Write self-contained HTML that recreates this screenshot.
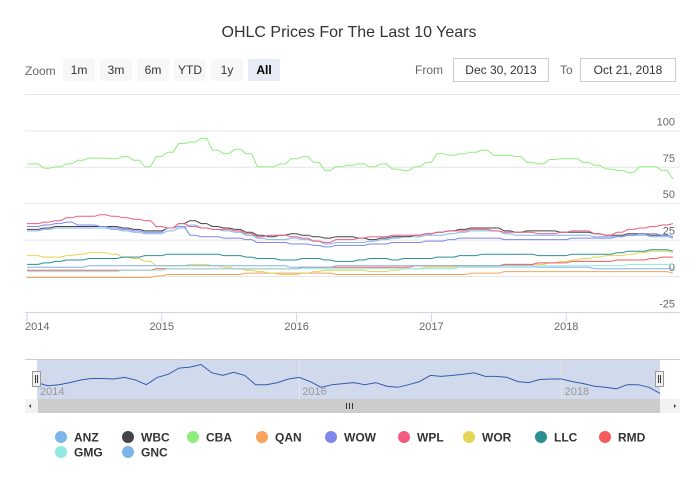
<!DOCTYPE html>
<html><head><meta charset="utf-8"><style>
body{margin:0;background:#fff;width:698px;height:490px;overflow:hidden;font-family:"Liberation Sans",sans-serif}
</style></head><body>
<svg id="c" width="698" height="490" xmlns="http://www.w3.org/2000/svg" font-family="Liberation Sans, sans-serif">
<text x="349" y="37" text-anchor="middle" font-size="16" fill="#333">OHLC Prices For The Last 10 Years</text>
<text x="25" y="75" font-size="12" fill="#666">Zoom</text>
<g font-size="12" fill="#333" text-anchor="middle">
<g><rect x="63" y="59" width="32" height="22" rx="2" fill="#f7f7f7"/><text x="79" y="74">1m</text></g>
<g><rect x="100" y="59" width="32" height="22" rx="2" fill="#f7f7f7"/><text x="116" y="74">3m</text></g>
<g><rect x="137" y="59" width="32" height="22" rx="2" fill="#f7f7f7"/><text x="153" y="74">6m</text></g>
<g><rect x="174" y="59" width="32" height="22" rx="2" fill="#f7f7f7"/><text x="190" y="74">YTD</text></g>
<g><rect x="211" y="59" width="32" height="22" rx="2" fill="#f7f7f7"/><text x="227" y="74">1y</text></g>
<g><rect x="248" y="59" width="32" height="22" rx="2" fill="#e6ebf5"/><text x="264" y="74" font-weight="bold" fill="#000">All</text></g>
</g>
<text x="415" y="74" font-size="12" fill="#666">From</text>
<g><rect x="453.5" y="58.5" width="95" height="23" fill="#fff" stroke="#ccc"/><text x="501" y="74" font-size="12" text-anchor="middle" fill="#333">Dec 30, 2013</text></g>
<text x="560" y="74" font-size="12" fill="#666">To</text>
<g><rect x="580.5" y="58.5" width="95" height="23" fill="#fff" stroke="#ccc"/><text x="628" y="74" font-size="12" text-anchor="middle" fill="#333">Oct 21, 2018</text></g>
<line x1="25" y1="94.5" x2="680" y2="94.5" stroke="#e6e6e6"/>
<g id="grid"></g><g id="series"></g><g id="xaxis"></g><g id="nav"></g><g id="legend"></g>
</svg>
<script>
const months = 58; // Jan 2014 .. Oct 2018
const yTicks = [100,75,50,25,0,-25];
const xTickLabels = ['2014','2015','2016','2017','2018'];
const seriesNames = ['ANZ','WBC','CBA','QAN','WOW','WPL','WOR','LLC','RMD','GMG','GNC'];
const seriesColors = ['#7cb5ec','#434348','#90ed7d','#f7a35c','#8085e9','#f15c80','#e4d354','#2b908f','#f45b5b','#91e8e1','#7cb5ec'];
const ANZ = [31,32,33,33,33,33,33,32,31,30,29,29,31,33,35,33,32,31,30,28,26,25,25,26,25,24,22,23,23,23,24,25,26,27,27,28,28,29,30,31,31,31,29,28,28,28,28,28,28,28,27,27,27,28,28,27,27,26];
const WBC = [32,33,34,34,34,34,34,34,33,32,31,31,33,36,38,36,34,33,32,30,28,27,28,29,28,27,26,27,27,26,25,26,27,27,28,29,30,31,32,33,33,33,31,30,31,31,31,30,30,30,29,28,28,29,29,28,28,27];
const CBA = [77,74,75,77,79.5,81,81,80.5,82,79.5,75,82,85,91,92,94.5,86.5,84,87,84,75,75,77,80.5,82,78,72.5,75,76,77,75,77,73.5,72.5,75,78,84,83,84,85,86.5,83,83,82,78,77,80,80.5,80.5,78,76,73.5,72.5,71,75,75,72.5,66.5];
const QAN = [-1,-1,-1,-1,-1,-1,-1,-1,-1,-1,-1,0,1,1,1,1,1,1,1,2,2,2,2,2,2,2,2,1,1,1,1,1,1,1,1,1,1,1,1,2,2,2,3,3,3,3,3,3,3,3,3,3,3,3,3,3,3,2];
const WOW = [34,35,36,37,35,35,34,33,32,31,30,30,33,34,28,27,27,26,26,25,23,23,23,22,22,21,20,21,21,21,22,22,23,23,23,24,24,25,26,26,26,26,25,25,25,25,25,25,26,26,26,26,27,28,29,29,28,27];
const WPL = [36,37,38,40,41,41,42,41,40,39,38,34,33,36,34,33,32,32,31,29,27,28,28,27,26,24,23,25,25,26,27,27,28,28,28,29,30,31,31,32,32,31,30,30,30,29,29,30,31,31,29,28,30,32,33,34,35,36];
const WOR = [14,13,13,14,15,16,16,15,13,12,10,7,7,7,8,8,7,6,5,4,3,2,1,1,2,3,4,4,4,4,3,3,4,5,5,6,6,6,7,7,7,7,8,8,8,8,9,10,11,12,13,14,14,15,16,17,17,16];
const LLC = [8,9,10,11,11,12,12,12,13,13,14,14,15,15,15,15,15,14,14,13,12,12,11,11,12,12,11,10,10,11,12,12,11,12,12,12,13,13,14,14,15,15,15,15,15,14,14,14,15,15,15,15,16,17,17,18,18,17];
const RMD = [4,4,4,4,4,4,4,4,4,4,4,5,5,5,5,5,5,5,5,5,5,5,5,5,6,6,6,6,6,6,6,6,6,6,7,7,7,7,7,7,7,7,8,8,8,9,9,9,10,10,10,10,11,11,11,12,13,13];
const GMG = [3,3,3,3,3,3,3,3,4,4,4,4,5,5,5,5,5,5,5,5,5,5,5,5,5,5,5,5,5,5,5,5,5,5,5,5,5,5,6,6,6,6,6,6,6,7,7,7,7,7,7,7,7,8,8,8,8,8];
const GNC = [6,6,6,6,6,7,7,7,7,7,7,7,7,7,7,7,7,7,7,7,7,7,7,6,6,6,6,7,7,7,7,7,7,7,7,7,7,7,7,7,7,7,7,7,7,6,6,6,6,6,5,5,5,5,5,5,5,5];
const seriesData = [ANZ,WBC,CBA,QAN,WOW,WPL,WOR,LLC,RMD,GMG,GNC];

const NS='http://www.w3.org/2000/svg';
function mk(tag,attrs,parent){const e=document.createElementNS(NS,tag);for(const k in attrs)e.setAttribute(k,attrs[k]);parent.appendChild(e);return e;}
const x0=27, yearW=134.8;
const xScale = i => x0 + i*yearW/12;
const yScale = v => 276 - v*1.456;
const grid=document.getElementById('grid');
yTicks.forEach(v=>{
  if(v>-25){const l=mk('line',{x1:25,x2:680,y1:yScale(v)+0.5,y2:yScale(v)+0.5,stroke:'#e6e6e6'},grid);
  
  }
  const t=mk('text',{x:675,y:yScale(v)-5,'text-anchor':'end','font-size':11,fill:'#666'},grid);
  t.textContent=v;
  
  
});
const ser=document.getElementById('series');
seriesData.forEach((d,s)=>{
  let p='';
  d.forEach((v,i)=>{
    const xa=xScale(i), xb=xScale(i+1);
    const open=i?d[i-1]:v;
    p+=(i?'L':'M')+xa.toFixed(1)+' '+yScale(open).toFixed(1)+'L'+((xa+xb)/2).toFixed(1)+' '+yScale(v).toFixed(1);
  });
  const e=mk('path',{d:p,fill:'none',stroke:seriesColors[s],'stroke-width':1},ser);
  
  
});
const xa=document.getElementById('xaxis');
const ax=mk('line',{x1:25,x2:680,y1:312.5,y2:312.5,stroke:'#ccd6eb'},xa);


xTickLabels.forEach((lab,k)=>{
  const x=xScale(k*12);
  const tk=mk('line',{x1:x,x2:x,y1:312,y2:322,stroke:'#ccd6eb'},xa);
  
  
  const t=mk('text',{x:k?x:x-2,y:330,'text-anchor':k?'middle':'start','font-size':11,fill:'#666'},xa);
  t.textContent=lab;
  
  
});
// navigator
const nav=document.getElementById('nav');
const nx0=37, nx1=660, ny0=360, ny1=399;
const nX=i=>nx0+i*(nx1-nx0)/(months-1);
const nY=v=>ny0+4+(95-v)*(ny1-ny0-8)/30;
const nbg=mk('rect',{x:nx0,y:ny0,width:nx1-nx0,height:ny1-ny0,fill:'rgba(102,133,194,0.3)'},nav);


mk('line',{x1:25,x2:680,y1:359.5,y2:359.5,stroke:'#ccc'},nav);
[['2014',0],['2016',24],['2018',48]].forEach(([lab,i])=>{
  const x=nX(i);
  if(i) mk('line',{x1:x,x2:x,y1:ny0,y2:ny1,stroke:'#e6e6e6'},nav);
  const t=mk('text',{x:x+3,y:ny1-4,'font-size':11,fill:'#999'},nav);
  t.textContent=lab;
  
  
});
let np='';
CBA.forEach((v,i)=>{np+=(i?'L':'M')+nX(i).toFixed(1)+' '+nY(v).toFixed(1);});
const nl=mk('path',{d:np,fill:'none',stroke:'#335cad','stroke-width':1},nav);


[nx0,nx1].forEach((x,k)=>{
  const h=mk('rect',{x:x-4.5,y:371.5,width:8,height:15,fill:'#f2f2f2',stroke:'#999'},nav);
  
  
  mk('path',{d:`M${x-1.5} 375V383M${x+0.5} 375V383`,stroke:'#333'},nav);
});
const sb=mk('rect',{x:25,y:399,width:655,height:14,fill:'#f2f2f2'},nav);


const th=mk('rect',{x:38,y:399,width:622,height:14,fill:'#cccccc'},nav);


mk('path',{d:'M346.5 403V409M349.5 403V409M352.5 403V409',stroke:'#333'},nav);
mk('path',{d:'M31 404L29 406L31 408Z M674 404L676 406L674 408Z',fill:'#333'},nav);
// legend
const lg=document.getElementById('legend');
const legX=[61,128,193,262,331,404,469,541,605,61,128];
seriesNames.forEach((n,i)=>{
  const row=i<9?0:1;
  const g=mk('g',{},lg);
  
  
  const y=437+row*15;
  mk('circle',{cx:legX[i],cy:y,r:6,fill:seriesColors[i]},g);
  const t=mk('text',{x:legX[i]+13,y:y+4.5,'font-size':12,'font-weight':'bold',fill:'#333'},g);
  t.textContent=n;
});
</script>
</body></html>
